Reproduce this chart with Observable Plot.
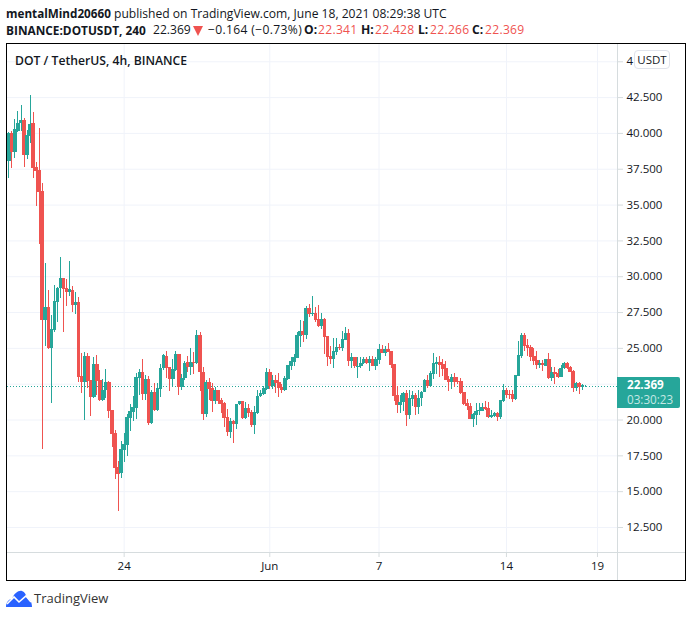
<!DOCTYPE html>
<html>
<head>
<meta charset="utf-8">
<script src="https://cdn.jsdelivr.net/npm/d3@7"></script>
<script src="https://cdn.jsdelivr.net/npm/@observablehq/plot@0.6"></script>
<style>
  html, body { margin: 0; padding: 0; background: #fff; }
  body { position: relative; width: 692px; height: 617px; overflow: hidden; font-family: "Open Sans", sans-serif; color: #131722; }
  .hdr { position: absolute; font-size: 12.1px; white-space: pre; line-height: 16px; }
  .hdr b { font-weight: 700; }
  .hdr b.tight { font-size: 11.85px; }
  .hdr b.name { font-size: 11.7px; }
  .red { color: #ef5350; letter-spacing: 0.3px; }
  #tri { position: absolute; left: 193px; top: 26px; width: 0; height: 0; border-left: 5.5px solid transparent; border-right: 5.5px solid transparent; border-top: 10px solid #ef5350; }
  #frame { position: absolute; left: 6px; top: 43px; width: 678px; height: 536px; border: 1px solid #000; }
  #chart { position: absolute; left: 0; top: 0; }
  #legend { position: absolute; left: 8px; top: 8px; font-size: 12.2px; font-weight: 600; }
  #unit { position: absolute; left: 627px; top: 6px; width: 34px; height: 17px; line-height: 17px; text-align: center; font-size: 11.5px; background: #fff; border: 1px solid #e0e3eb; border-radius: 4px; }
  #last { position: absolute; left: 610px; top: 333px; width: 63px; height: 31px; background: #26a69a; border-radius: 0 2px 2px 0; color: #fff; font-size: 11.7px; line-height: 15px; }
  #last div { padding-left: 10px; }
  #last .v { font-weight: 700; }
  #last .t { color: #c5e8e4; }
  #brand { position: absolute; left: 6px; top: 589px; display: flex; align-items: center; font-size: 13px; color: #333; }
  #brand span { margin-left: 2px; }
</style>
</head>
<body>
<div class="hdr" style="left:6px;top:5px"><b class="name">mentalMind20660</b> published on TradingView.com, June 18, 2021 08:29:38 UTC</div>
<div class="hdr" style="left:6px;top:22px"><b class="tight">BINANCE:DOTUSDT, 240</b></div>
<div class="hdr" style="left:153px;top:22px">22.369</div>
<div id="tri"></div>
<div class="hdr" style="left:208px;top:22px;letter-spacing:0.35px">−0.164 (−0.73%)</div>
<div class="hdr" style="left:304px;top:22px"><b>O:</b></div>
<div class="hdr red" style="left:318px;top:22px">22.341</div>
<div class="hdr" style="left:361px;top:22px"><b>H:</b></div>
<div class="hdr red" style="left:375px;top:22px">22.428</div>
<div class="hdr" style="left:418px;top:22px"><b>L:</b></div>
<div class="hdr red" style="left:430px;top:22px">22.266</div>
<div class="hdr" style="left:472px;top:22px"><b>C:</b></div>
<div class="hdr red" style="left:485px;top:22px">22.369</div>
<div id="frame">
  <div id="chart"></div>
  <div id="legend">DOT / TetherUS, 4h, BINANCE</div>
  <div id="unit">USDT</div>
  <div id="last"><div class="v">22.369</div><div class="t">03:30:23</div></div>
</div>
<div id="brand">
  <svg width="26" height="17" viewBox="0 0 26 17"><path fill="#2962ff" d="M0 17 C0 12 3 9 6 9 C8 3 13 0 16 1 C19 2 20 5 21 8 C24 9 26 12 26 17 Z"/><path fill="none" stroke="#fff" stroke-width="1.6" d="M1 14 L8 7 L13 12 L20 6 L25 12"/></svg>
  <span>TradingView</span>
</div>
<script>
// values, one candle every 4h from May 17 16:00 UTC
const opens = [38.04,39.99,38.67,40.13,40.69,40.90,38.46,39.78,40.69,37.62,37.41,35.95,26.94,27.85,24.99,26.25,28.20,29.18,29.88,29.18,28.90,29.04,27.99,28.20,23.04,22.62,24.43,22.76,21.57,23.88,22.76,21.36,22.06,22.62,20.66,19.06,16.69,16.27,17.87,18.22,20.10,20.52,20.80,22.90,23.31,21.78,22.83,19.76,21.92,20.66,22.13,23.60,24.43,23.67,22.83,23.46,24.57,22.27,22.90,24.01,23.67,24.01,23.94,25.90,23.31,20.38,22.62,22.20,21.29,22.06,21.36,21.15,20.18,19.13,19.90,19.69,21.08,21.29,20.10,20.80,20.52,19.62,20.45,21.64,21.78,22.13,23.31,22.34,22.76,22.62,22.27,22.06,22.83,23.74,24.01,24.29,25.83,26.18,25.90,27.78,27.36,27.43,27.01,26.53,27.01,25.83,24.43,24.22,24.71,25.06,24.99,25.55,26.04,24.08,24.36,23.67,23.74,23.94,24.22,23.94,24.22,23.74,24.15,24.92,24.64,24.92,24.78,23.88,21.71,21.01,21.22,21.85,20.31,21.43,21.71,20.87,21.50,21.92,22.76,22.34,23.18,23.88,24.01,23.88,23.60,22.83,22.62,22.97,22.69,22.69,21.92,21.15,20.94,20.04,20.31,20.59,20.59,20.87,20.80,20.18,20.24,20.45,20.18,21.29,22.06,21.78,21.78,21.43,23.04,24.43,25.90,25.20,25.06,24.43,24.15,23.81,23.94,23.74,24.22,22.90,23.31,23.25,22.97,23.60,23.94,23.67,23.39,22.20,22.55,22.27,22.341];
const highs = [40.06,40.13,40.97,41.53,41.95,41.04,40.20,42.65,41.46,37.97,40.34,36.50,30.92,29.04,27.29,29.39,29.25,31.34,29.88,29.81,31.06,29.32,28.90,28.55,24.64,24.71,24.64,22.76,24.36,24.50,23.46,22.83,23.53,22.69,20.66,19.27,17.10,18.50,19.06,20.39,21.08,21.64,23.25,23.53,24.22,23.11,23.04,22.06,22.55,22.55,23.88,24.57,24.78,23.67,24.22,24.78,24.57,23.18,24.08,24.43,24.99,24.71,26.25,26.11,23.67,22.76,22.90,22.55,22.27,22.06,21.50,21.22,20.73,20.10,19.97,21.08,21.29,21.29,21.22,21.08,20.66,20.94,22.06,22.06,22.34,23.60,23.53,23.11,23.11,23.25,22.48,23.04,23.81,24.36,24.57,26.11,26.94,26.87,27.92,28.06,28.62,27.85,27.99,27.43,27.08,25.83,25.13,25.69,25.69,25.27,26.18,26.46,26.32,24.64,24.36,24.36,24.36,24.36,24.36,24.43,24.43,24.36,25.27,25.20,25.13,25.34,24.78,23.88,22.34,21.71,21.92,22.06,22.06,21.99,21.85,22.06,21.99,22.83,23.11,23.39,24.64,24.36,24.43,24.22,24.08,23.04,23.18,23.25,22.97,22.90,21.92,21.43,21.15,20.45,21.15,21.15,21.15,21.29,21.22,20.66,20.52,20.52,21.36,22.48,22.20,22.06,22.06,23.11,25.48,26.04,26.04,25.62,25.20,24.99,24.78,24.15,24.15,24.22,24.64,23.67,23.67,23.53,23.81,24.01,24.01,23.74,23.46,22.62,22.62,22.48,22.428];
const lows = [36.85,37.55,38.25,40.06,40.13,37.62,38.18,39.30,36.85,34.90,32.25,17.94,25.13,24.92,21.15,26.11,26.80,28.48,26.11,27.92,28.62,27.50,27.36,22.62,21.85,19.97,22.20,20.25,21.50,21.71,21.29,21.29,21.50,20.10,18.08,15.85,13.62,15.92,17.03,17.45,19.20,19.90,20.04,21.71,21.36,21.36,19.62,19.69,20.59,20.59,21.57,23.46,22.90,21.99,22.27,23.39,21.71,22.06,22.76,23.31,23.11,23.18,23.88,21.99,19.97,20.18,21.36,20.52,21.08,21.08,20.45,19.48,18.85,18.71,18.36,19.34,21.01,20.04,20.04,20.18,19.48,18.99,20.38,21.57,21.71,22.06,22.13,22.13,21.85,21.57,21.85,21.99,22.76,23.46,23.74,24.29,25.06,25.41,25.62,27.15,27.22,26.80,26.46,26.32,24.57,23.74,23.88,23.60,24.50,24.85,24.78,25.55,23.74,23.60,23.60,22.90,23.60,23.88,23.88,23.39,23.74,23.46,23.88,24.64,24.43,24.71,23.60,21.29,20.45,20.45,20.59,19.52,20.04,20.94,20.31,20.38,20.94,21.92,22.20,22.34,22.83,23.18,22.97,23.04,22.76,21.99,22.13,22.27,22.48,21.78,21.01,20.66,20.04,19.48,19.62,20.31,20.59,20.66,20.10,20.10,20.18,19.90,20.04,21.22,21.50,21.43,21.22,21.36,23.04,24.29,24.78,24.43,24.08,23.81,23.53,23.60,23.39,23.74,22.83,22.69,22.48,22.90,22.97,23.53,23.53,23.32,21.92,21.99,21.78,22.06,22.266];
const closes = [39.99,38.67,40.27,40.69,40.90,38.46,39.85,40.62,37.55,37.34,35.88,26.94,27.85,24.99,26.32,28.27,29.18,29.88,29.11,28.90,29.11,27.99,28.20,22.97,22.62,24.43,22.69,21.57,23.88,22.69,21.36,22.06,22.62,20.59,19.00,16.62,16.20,17.94,18.29,20.18,20.59,20.87,22.97,23.31,21.78,22.83,19.76,21.92,20.66,22.20,23.60,24.50,23.60,22.83,23.53,24.57,22.27,22.90,23.94,23.67,24.01,23.94,25.90,23.31,20.38,22.62,22.13,21.29,22.06,21.29,21.08,20.10,19.13,19.90,19.69,21.08,21.29,20.10,20.80,20.45,19.62,20.52,21.64,21.85,22.20,23.31,22.34,22.76,22.55,22.20,22.06,22.90,23.81,24.08,24.36,25.90,26.18,25.90,27.78,27.36,27.43,26.94,26.53,27.01,25.76,24.36,24.22,24.78,25.06,24.99,25.62,26.04,24.08,24.36,23.74,23.74,23.94,24.22,23.94,24.22,23.74,24.22,24.92,24.64,24.92,24.71,23.81,21.64,21.01,21.22,21.85,20.31,21.50,21.71,20.87,21.50,21.92,22.76,22.34,23.25,23.94,24.01,23.81,23.53,22.76,22.62,22.97,22.62,22.62,21.85,21.08,20.94,20.04,20.38,20.59,20.66,20.87,20.73,20.18,20.31,20.45,20.18,21.36,22.06,21.71,21.71,21.43,23.11,24.50,25.90,25.13,24.99,24.36,24.08,23.81,23.94,23.81,24.22,22.90,23.31,23.18,22.97,23.60,23.94,23.60,23.32,22.20,22.55,22.27,22.41,22.369];

const lastPrice = 22.369;
const yGrid = [45,42.5,40,37.5,35,32.5,30,27.5,25,22.5,20,17.5,15,12.5];
// 22.500 sits behind the last price label and 45.000 behind the USDT badge, as in the picture
const yTicks = [45,42.5,40,37.5,35,32.5,30,27.5,25,20,17.5,15,12.5];
const yTickLabels = ["4","42.500","40.000","37.500","35.000","32.500","30.000","27.500","25.000","20.000","17.500","15.000","12.500"];
const xTickDates = [new Date(Date.UTC(2021,4,24)), new Date(Date.UTC(2021,5,1)), new Date(Date.UTC(2021,5,7)), new Date(Date.UTC(2021,5,14)), new Date(Date.UTC(2021,5,19))];
const xTickLabels = ["24","Jun","7","14","19"];

const green = "#26a69a", red = "#ef5350", gridColor = "#f0f3fa", axisColor = "#d6dcde";
const start = Date.UTC(2021,4,17,16);
const fourHours = 4*3600*1000;

const candles = opens.map((o,i) => ({
  time: new Date(start + i*fourHours), o, h: highs[i], l: lows[i], c: closes[i],
  color: closes[i] >= o ? green : red
}));

const xMin = new Date(start - 0.45*fourHours), xMax = new Date(start + 200.6*fourHours);

let chart = Plot.plot({
  width: 678, height: 536,
  marginLeft: 0, marginTop: 0, marginRight: 68, marginBottom: 28,
  style: {background: "transparent", fontFamily: '"Open Sans", sans-serif', fontSize: "11.5px", color: "#131722"},
  x: {type: "utc", domain: [xMin, xMax]},
  y: {domain: [10.755, 46.205]},
  marks: [
    Plot.gridY(yGrid, {stroke: gridColor, strokeOpacity: 1}),
    Plot.gridX(xTickDates, {stroke: gridColor, strokeOpacity: 1}),
    Plot.ruleY([lastPrice], {stroke: green, strokeDasharray: "1 2", shapeRendering: "crispEdges"}),
    Plot.ruleY([10.755], {stroke: axisColor, insetRight: -68}),
    Plot.ruleX([xMax], {stroke: axisColor, insetBottom: -28}),
    Plot.axisY(yTicks, {anchor: "right", label: null, tickSize: 5, tickPadding: 4, stroke: axisColor, fill: "#131722", tickFormat: (d,i) => yTickLabels[i]}),
    Plot.axisX(xTickDates, {anchor: "bottom", label: null, tickSize: 5, tickPadding: 4, stroke: axisColor, fill: "#131722", tickFormat: (d,i) => xTickLabels[i]}),
    Plot.ruleX(candles, {x: "time", y1: "l", y2: "h", stroke: "color", strokeWidth: 1, shapeRendering: "crispEdges"}),
    Plot.ruleX(candles, {x: "time", y1: "o", y2: "c", stroke: "color", strokeWidth: 3.6, shapeRendering: "crispEdges"})
  ]
});

d3.select('#chart').append(() => chart);
</script>
</body>
</html>
